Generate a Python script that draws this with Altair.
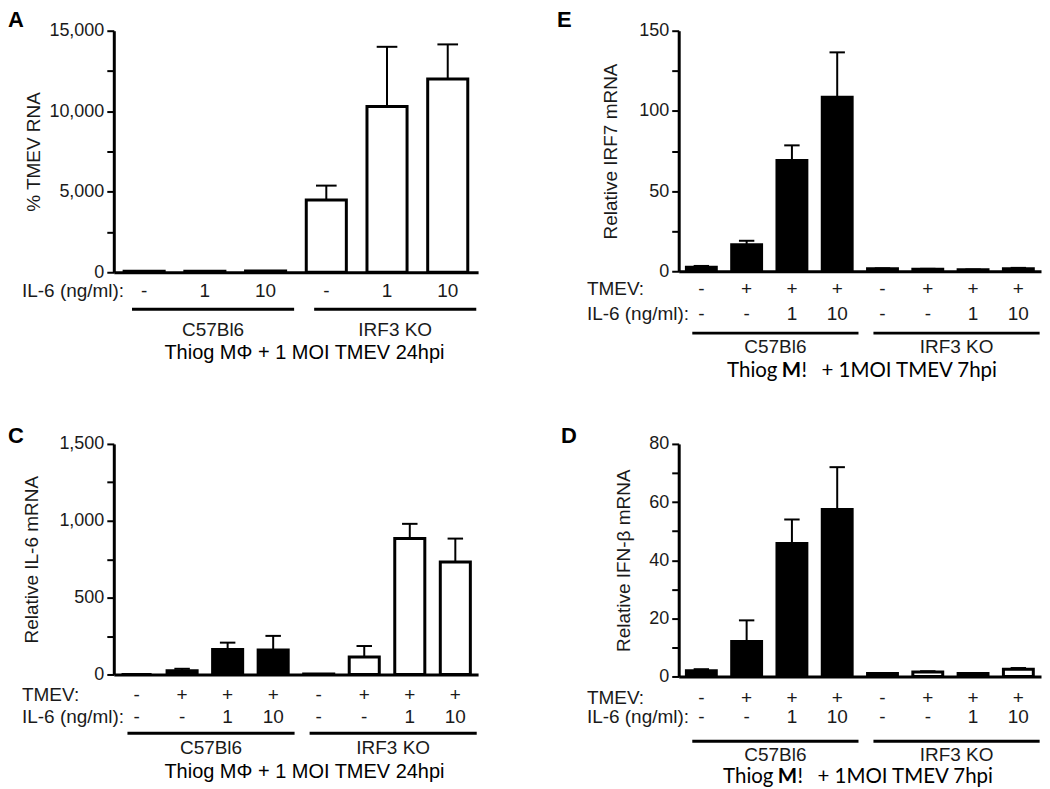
import altair as alt
import pandas as pd

# ---------------- data ----------------
# Panel A : % TMEV RNA (24 hpi)
A_il6 = ["-", "1", "10", "-", "1", "10"]
A_strain = ["C57Bl6", "C57Bl6", "C57Bl6", "IRF3 KO", "IRF3 KO", "IRF3 KO"]
A_mean = [60, 60, 70, 4480, 10300, 12000]
A_sem = [0, 0, 0, 900, 3700, 2150]

# Panel E : Relative IRF7 mRNA (7 hpi)
E_tmev = ["-", "+", "+", "+", "-", "+", "+", "+"]
E_il6 = ["-", "-", "1", "10", "-", "-", "1", "10"]
E_strain = ["C57Bl6"] * 4 + ["IRF3 KO"] * 4
E_mean = [2.5, 16.5, 69, 108.5, 1.5, 1.2, 0.9, 1.6]
E_sem = [0.8, 2.5, 9.5, 28, 0.3, 0.3, 0.2, 0.5]

# Panel C : Relative IL-6 mRNA (24 hpi)
C_tmev = ["-", "+", "+", "+", "-", "+", "+", "+"]
C_il6 = ["-", "-", "1", "10", "-", "-", "1", "10"]
C_strain = ["C57Bl6"] * 4 + ["IRF3 KO"] * 4
C_mean = [0, 25, 162, 160, 3, 113, 884, 731]
C_sem = [0, 12, 45, 91, 0, 72, 96, 153]

# Panel D : Relative IFN-beta mRNA (7 hpi)
D_tmev = ["-", "+", "+", "+", "-", "+", "+", "+"]
D_il6 = ["-", "-", "1", "10", "-", "-", "1", "10"]
D_strain = ["C57Bl6"] * 4 + ["IRF3 KO"] * 4
D_mean = [2.0, 12, 45.7, 57.4, 1.0, 1.5, 1.0, 2.5]
D_sem = [0.5, 7.3, 8.3, 14.6, 0.2, 0.3, 0.2, 0.4]

FONT = "Liberation Sans"
CAPFONT = "Lato"
TXT = "#1a1a1a"
ROWFS = 19


def panel(letter, mean, sem, strain, rows, ymax, ystep, labstep, ytitle, title_x,
          w, h, line_dy, group_dy, solid, captions, cap_dy, letter_xy):
    n = len(mean)
    idx = list(range(n))
    bars = pd.DataFrame({"idx": idx, "mean": mean, "sem": sem, "strain": strain})
    bars["base"] = 0.0
    bars["lo"] = bars["idx"] - 0.33
    bars["hi"] = bars["idx"] + 0.33
    bars["top"] = bars["mean"] + bars["sem"]
    bars["cl"] = bars["idx"] - 0.17
    bars["cr"] = bars["idx"] + 0.17
    bars["fill"] = ["black" if (solid and s == "C57Bl6") else "white" for s in strain]

    xs = alt.Scale(domain=[-0.5, n - 0.5], nice=False, zero=False)
    ys = alt.Scale(domain=[0, ymax], nice=False, zero=True)
    xaxis = alt.Axis(labels=False, ticks=False, title=None, grid=False,
                     domainWidth=3, domainColor="black")
    yaxis = alt.Axis(values=list(range(0, ymax + 1, ystep)),
                     labelExpr=f"datum.value % {labstep} === 0 ? format(datum.value, ',') : ''",
                     labelFont=FONT, labelFontSize=18, labelColor=TXT, labelPadding=3,
                     labelOverlap=False, tickSize=7, tickWidth=2, tickColor="black",
                     domainWidth=3, domainColor="black", grid=False,
                     title=ytitle, titleFont=FONT, titleFontSize=19, titleFontWeight="normal",
                     titleColor=TXT, titleX=title_x, titleBaseline="middle")

    def X(f):
        return alt.X(f"{f}:Q", scale=xs, axis=xaxis)

    def Y(f):
        return alt.Y(f"{f}:Q", scale=ys, axis=yaxis)

    base = alt.Chart(bars)
    layers = [
        base.mark_bar(stroke="black", strokeWidth=3).encode(
            x=X("lo"), x2="hi", y=Y("mean"), y2="base",
            fill=alt.Fill("fill:N", scale=None)),
        base.transform_filter("datum.sem > 0").mark_rule(color="black", strokeWidth=2).encode(
            x=X("idx"), y=Y("mean"), y2="top"),
        base.transform_filter("datum.sem > 0").mark_rule(color="black", strokeWidth=2).encode(
            x=X("cl"), x2="cr", y=Y("top")),
    ]
    # condition rows
    for title, labs, dy in rows:
        rdf = pd.DataFrame({"idx": idx, "lab": labs})
        layers.append(alt.Chart(rdf).mark_text(font=FONT, fontSize=ROWFS, color=TXT,
                                               baseline="middle").encode(
            x=X("idx"), y=alt.value(h + dy), text="lab:N"))
        layers.append(alt.Chart(pd.DataFrame({"t": [title]})).mark_text(
            font=FONT, fontSize=ROWFS, color=TXT, align="left", baseline="middle").encode(
            x=alt.value(-92), y=alt.value(h + dy), text="t:N"))
    # strain group underlines
    runs = []
    for i, s in enumerate(strain):
        if runs and runs[-1][0] == s:
            runs[-1][2] = i
        else:
            runs.append([s, i, i])
    gdf = pd.DataFrame({"name": [r[0] for r in runs],
                        "g0": [r[1] - 0.2 for r in runs],
                        "g1": [r[2] + 0.47 for r in runs]})
    gdf["gc"] = (gdf["g0"] + gdf["g1"]) / 2
    layers.append(alt.Chart(gdf).mark_rule(color="black", strokeWidth=3).encode(
        x=X("g0"), x2="g1", y=alt.value(h + line_dy)))
    layers.append(alt.Chart(gdf).mark_text(font=FONT, fontSize=ROWFS, color=TXT,
                                           baseline="middle").encode(
        x=X("gc"), y=alt.value(h + group_dy), text="name:N"))
    # caption
    for txt, cx, align, weight, font, size in captions:
        layers.append(alt.Chart(pd.DataFrame({"t": [txt]})).mark_text(
            font=font, fontSize=size, fontWeight=weight, color="black", align=align,
            baseline="middle").encode(x=alt.value(cx), y=alt.value(h + cap_dy), text="t:N"))
    # panel letter
    layers.append(alt.Chart(pd.DataFrame({"t": [letter]})).mark_text(
        font=FONT, fontSize=22, fontWeight="bold", color="black",
        align="left", baseline="top").encode(
        x=alt.value(letter_xy[0]), y=alt.value(letter_xy[1]), text="t:N"))
    return alt.layer(*layers).properties(width=w, height=h)


cap24 = [("Thiog M\u03a6 + 1 MOI TMEV 24hpi", 191, "center", "normal", FONT, 20)]


def cap7(x0):
    return [("Thiog", x0, "right", "normal", CAPFONT, 20.5),
            ("M", x0 + 14, "center", "bold", CAPFONT, 20.5),
            ("!", x0 + 24, "left", "normal", CAPFONT, 20.5),
            ("+ 1MOI TMEV 7hpi", x0 + 44, "left", "normal", CAPFONT, 20.5)]


pA = panel("A", A_mean, A_sem, A_strain, [("IL-6 (ng/ml):", A_il6, 19)],
           15000, 2500, 5000, "% TMEV RNA", -80, 365, 242, 37, 58, False, cap24, 81, (-106, -21))
pE = panel("E", E_mean, E_sem, E_strain,
           [("TMEV:", E_tmev, 18), ("IL-6 (ng/ml):", E_il6, 43)],
           150, 25, 50, "Relative IRF7 mRNA", -68, 363, 241, 62, 76, True, cap7(99), 100,
           (-122, -21))
pC = panel("C", C_mean, C_sem, C_strain,
           [("TMEV:", C_tmev, 21), ("IL-6 (ng/ml):", C_il6, 43)],
           1500, 250, 500, "Relative IL-6 mRNA", -82, 365, 231, 59, 74, True, cap24, 98,
           (-106, -18))
pD = panel("D", D_mean, D_sem, D_strain,
           [("TMEV:", D_tmev, 22), ("IL-6 (ng/ml):", D_il6, 41)],
           80, 10, 20, "Relative IFN-\u03b2 mRNA", -55, 363, 233, 65, 79, True, cap7(95), 101,
           (-118, -18))

chart = alt.concat(pA, pE, pC, pD, columns=2, spacing={"row": 172, "column": 201},
                   bounds="flush").properties(padding=0).configure_view(stroke=None)

chart.save("out.html", embed_options={"renderer": "svg", "actions": False})
